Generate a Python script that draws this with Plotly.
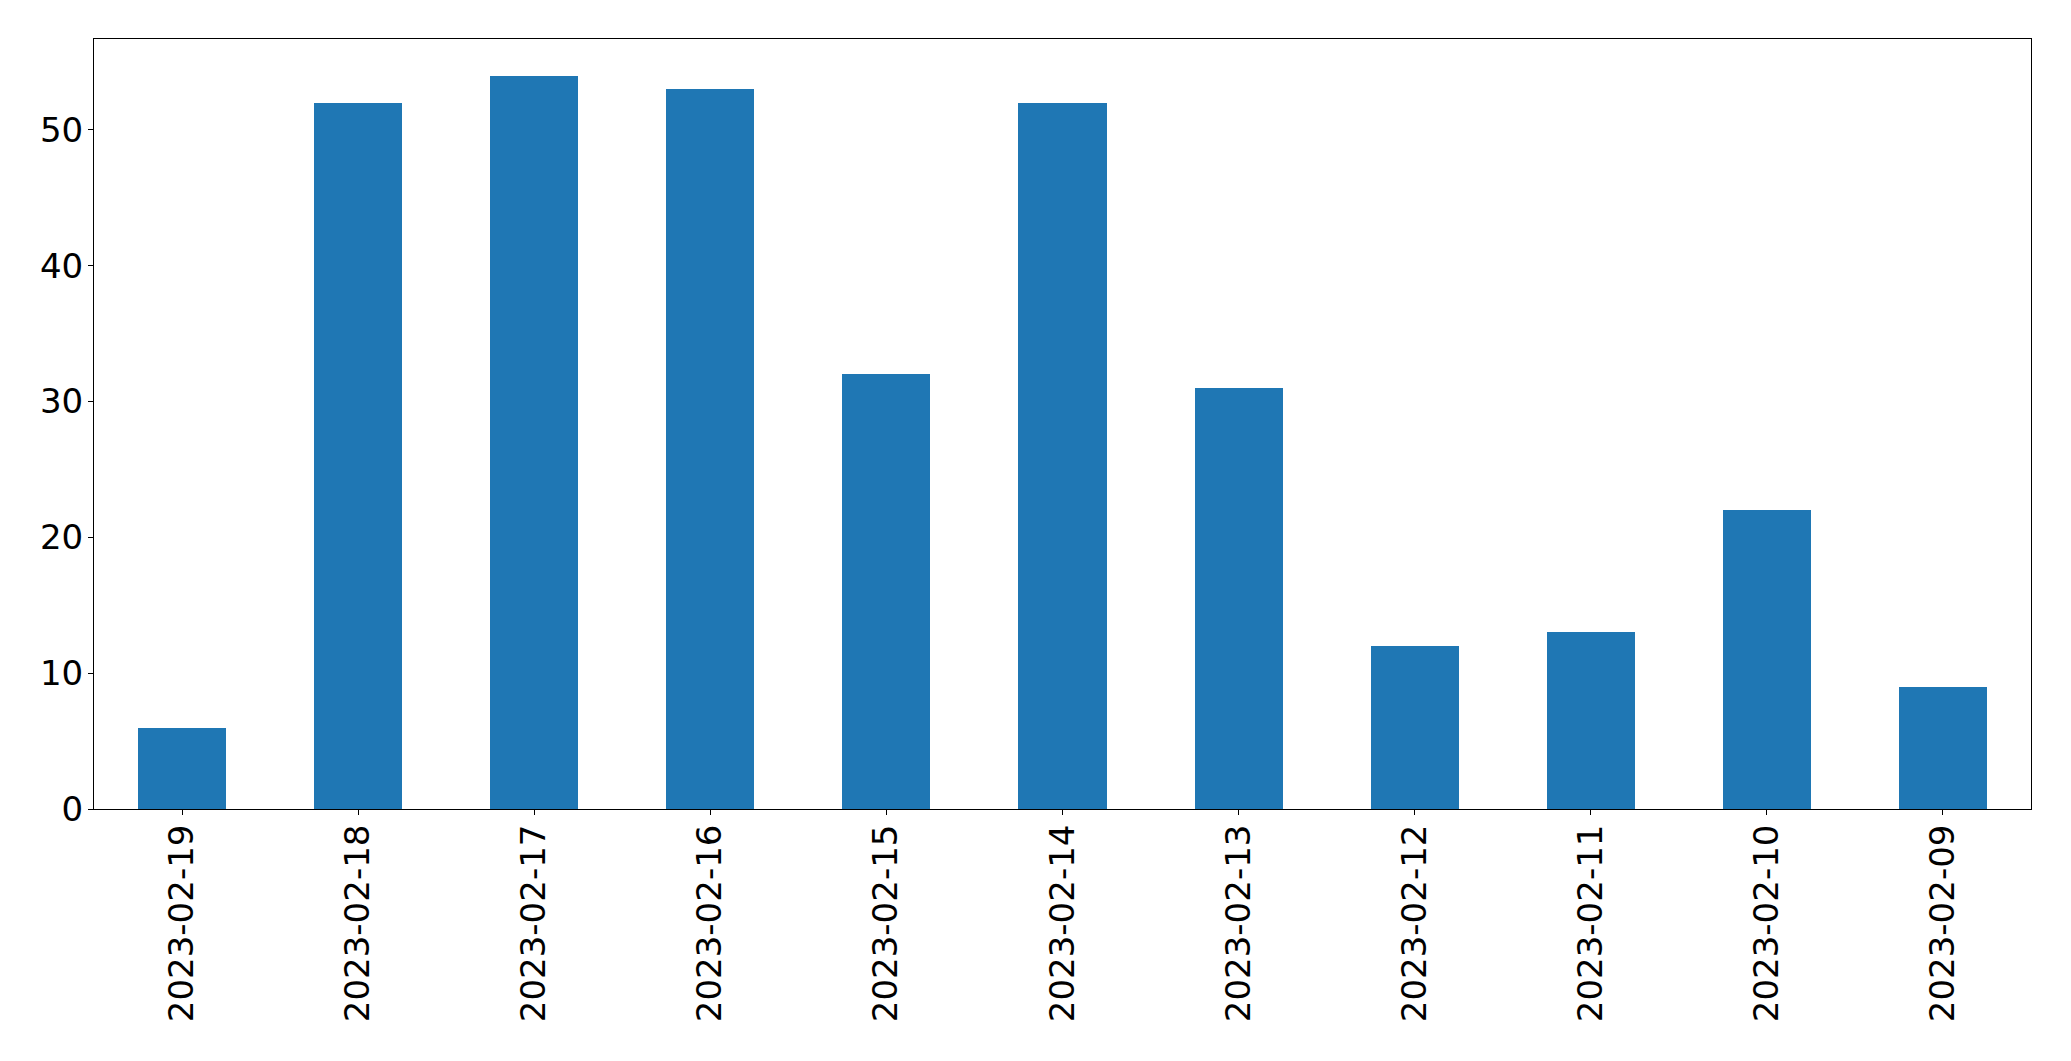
import plotly.graph_objects as go

categories = ["2023-02-19", "2023-02-18", "2023-02-17", "2023-02-16", "2023-02-15",
              "2023-02-14", "2023-02-13", "2023-02-12", "2023-02-11", "2023-02-10", "2023-02-09"]
values = [6, 52, 54, 53, 32, 52, 31, 12, 13, 22, 9]
y_ticks = [0, 10, 20, 30, 40, 50]

fig = go.Figure(go.Bar(
    x=list(range(len(categories))),
    y=values,
    width=0.5,
    marker=dict(color="#1f77b4", line=dict(width=0)),
))

axis_common = dict(
    showline=True, linecolor="black", linewidth=1, mirror=True,
    ticks="outside", ticklen=5, tickwidth=1, tickcolor="black",
    showgrid=False, zeroline=False,
    tickfont=dict(family="DejaVu Sans", size=34, color="black"),
)

# page body has an 8px default margin, so the figure is sized/offset to compensate
fig.update_layout(
    width=2063, height=1053,
    margin=dict(l=86, r=40, t=31, b=252, pad=0),
    paper_bgcolor="white", plot_bgcolor="white",
    showlegend=False,
    bargap=0,
    xaxis=dict(
        range=[-0.5, 10.5],
        tickmode="array",
        tickvals=list(range(len(categories))),
        ticktext=categories,
        tickangle=-90,
        ticklabelstandoff=-4,
        **axis_common,
    ),
    yaxis=dict(
        range=[0, 56.7],
        tickmode="array",
        tickvals=y_ticks,
        ticktext=[str(t) for t in y_ticks],
        ticklabelstandoff=-2,
        **axis_common,
    ),
)

fig.write_html("out.html")
